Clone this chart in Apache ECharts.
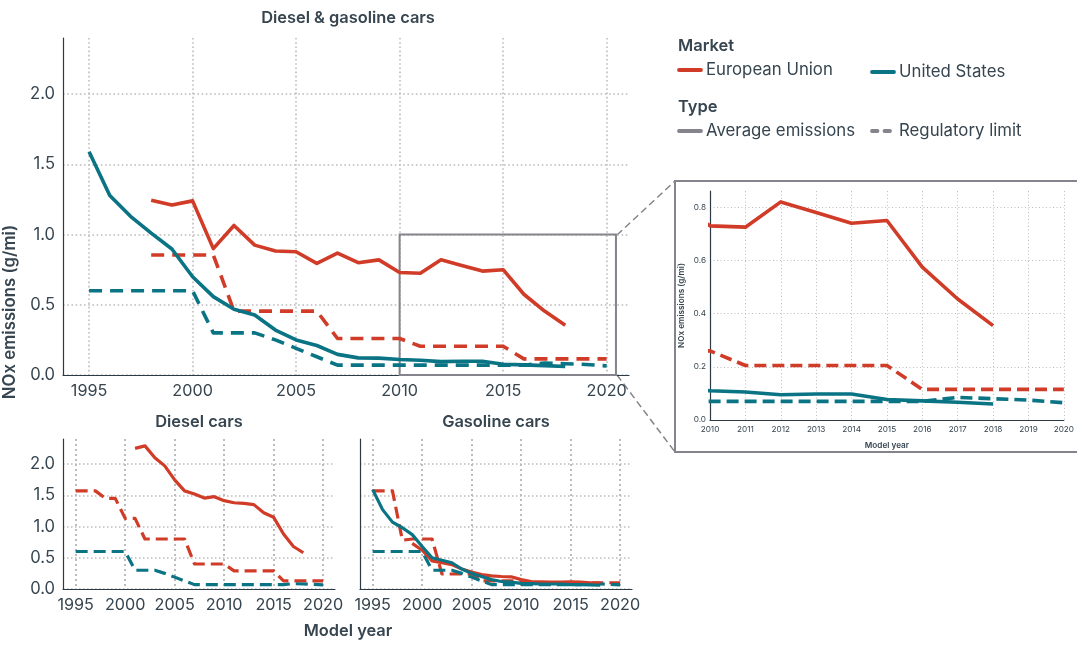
<!DOCTYPE html>
<html>
<head>
<meta charset="utf-8">
<title>NOx emissions</title>
<script src="https://cdn.jsdelivr.net/npm/echarts@6/dist/echarts.min.js"></script>
<style>
html, body { margin: 0; padding: 0; background: #fff; }
#chart { width: 1077px; height: 651px; }
</style>
</head>
<body>
<div id="chart"></div>
<script>
var fiveYearTicks = [1995, 2000, 2005, 2010, 2015, 2020];
var insetTicks = [2010, 2011, 2012, 2013, 2014, 2015, 2016, 2017, 2018, 2019, 2020];
var mainYTicks = [0, 0.5, 1, 1.5, 2];
var insetYTicks = [0, 0.2, 0.4, 0.6, 0.8];

// first model year of each series is in the name's *Start var
var allEuAvgStart = 1998;
var allEuAvg = [1.245, 1.21, 1.24, 0.90, 1.065, 0.925, 0.883, 0.878, 0.795, 0.868, 0.80, 0.82, 0.73, 0.725, 0.82, 0.78, 0.74, 0.75, 0.575, 0.455, 0.355];
var allUsAvgStart = 1995;
var allUsAvg = [1.59, 1.278, 1.13, 1.01, 0.897, 0.70, 0.558, 0.468, 0.427, 0.32, 0.25, 0.21, 0.147, 0.122, 0.12, 0.11, 0.105, 0.095, 0.098, 0.098, 0.077, 0.072, 0.067, 0.06];
var allEuLimitStart = 1998;
var allEuLimit = [0.855, 0.855, 0.855, 0.855, 0.455, 0.455, 0.455, 0.455, 0.455, 0.26, 0.26, 0.26, 0.26, 0.205, 0.205, 0.205, 0.205, 0.205, 0.115, 0.115, 0.115, 0.115, 0.115];
var usLimitStart = 1995;
var usLimit = [0.6, 0.6, 0.6, 0.6, 0.6, 0.6, 0.3, 0.3, 0.3, 0.25, 0.19, 0.13, 0.07, 0.07, 0.07, 0.07, 0.07, 0.07, 0.07, 0.07, 0.07, 0.07, 0.085, 0.08, 0.075, 0.065];

var dieselEuAvgStart = 2001;
var dieselEuAvg = [2.25, 2.29, 2.10, 1.97, 1.745, 1.57, 1.52, 1.455, 1.477, 1.413, 1.38, 1.37, 1.35, 1.22, 1.147, 0.88, 0.68, 0.58];
var dieselEuLimitStart = 1995;
var dieselEuLimit = [1.57, 1.57, 1.57, 1.45, 1.45, 1.13, 1.13, 0.8, 0.8, 0.8, 0.8, 0.8, 0.4, 0.4, 0.4, 0.4, 0.29, 0.29, 0.29, 0.29, 0.29, 0.13, 0.13, 0.13, 0.13, 0.13];

var gasEuAvgStart = 1999;
var gasEuAvg = [0.73, 0.62, 0.45, 0.42, 0.39, 0.32, 0.27, 0.23, 0.21, 0.20, 0.195, 0.15, 0.12, 0.115, 0.11, 0.11, 0.115, 0.11, 0.10, 0.095];
var gasUsAvgStart = 1995;
var gasUsAvg = [1.59, 1.27, 1.07, 0.98, 0.87, 0.68, 0.50, 0.46, 0.42, 0.32, 0.25, 0.20, 0.15, 0.12, 0.11, 0.09, 0.085, 0.08, 0.08, 0.08, 0.07, 0.07, 0.065, 0.06];
var gasEuLimitStart = 1995;
var gasEuLimit = [1.57, 1.57, 1.57, 0.78, 0.8, 0.8, 0.8, 0.24, 0.24, 0.24, 0.24, 0.13, 0.13, 0.13, 0.13, 0.13, 0.1, 0.1, 0.1, 0.1, 0.1, 0.1, 0.1, 0.1, 0.1, 0.1];

var red = '#d03c27';
var teal = '#0a7384';
var grey = '#85848c';
var ink = '#36454f';
var dots = '#bcbcbc';
var font = 'Inter';

function pairs(start, values) {
    return values.map(function (v, i) { return [start + i, v]; });
}

function line(gridIndex, name, color, start, values, dash) {
    return {
        name: name,
        type: 'line',
        xAxisIndex: gridIndex,
        yAxisIndex: gridIndex,
        data: pairs(start, values),
        symbol: 'none',
        silent: true,
        lineStyle: { color: color, width: gridIndex == 1 || gridIndex == 2 ? 3.2 : 3.6, type: dash || 'solid', join: 'round' }
    };
}

function xAxis(gridIndex, min, max, ticks, fontSize, margin, dotWidth, dotDash, extra) {
    var axis = {
        type: 'value',
        gridIndex: gridIndex,
        min: min,
        max: max,
        axisLine: { show: true, onZero: false, lineStyle: { color: '#2b3a44', width: 1.2 } },
        axisTick: { show: false, customValues: ticks },
        axisLabel: { customValues: ticks, color: ink, fontFamily: font, fontSize: fontSize, margin: margin, formatter: function (v) { return String(v); } },
        splitLine: { show: true, lineStyle: { color: dots, type: dotDash, width: dotWidth } }
    };
    return Object.assign(axis, extra || {});
}

function yAxis(gridIndex, max, ticks, fontSize, margin, showLabel, dotWidth, dotDash, extra) {
    var axis = {
        type: 'value',
        gridIndex: gridIndex,
        min: 0,
        max: max,
        axisLine: { show: true, lineStyle: { color: '#2b3a44', width: 1.2 } },
        axisTick: { show: false, customValues: ticks },
        axisLabel: { show: showLabel, customValues: ticks, color: ink, fontFamily: font, fontSize: fontSize, margin: margin, formatter: function (v) { return v.toFixed(1); } },
        splitLine: { show: true, lineStyle: { color: dots, type: dotDash, width: dotWidth } }
    };
    return Object.assign(axis, extra || {});
}

function heading(text, x, y) {
    return { text: text, left: x, top: y, textAlign: 'center', textStyle: { color: ink, fontFamily: font, fontSize: 16.4, fontWeight: 600 } };
}

function label(text, x, y, bold) {
    return {
        type: 'text', x: x, y: y,
        style: { text: text, fill: ink, font: (bold ? '600 16.5px ' : '400 16.8px ') + font, textVerticalAlign: 'middle' }
    };
}

function legendLine(x, y, color, dash) {
    return {
        type: 'line',
        shape: { x1: x, y1: y, x2: x + 22, y2: y },
        style: { stroke: color, lineWidth: 3.8, lineCap: 'round', lineDash: dash || null }
    };
}

function connector(x1, y1, x2, y2) {
    return {
        type: 'line',
        shape: { x1: x1, y1: y1, x2: x2, y2: y2 },
        style: { stroke: grey, lineWidth: 1.5, lineDash: [7, 4] }
    };
}

var mainSeries = [
    line(0, 'EU limit', red, allEuLimitStart, allEuLimit, [13, 8]),
    line(0, 'US limit', teal, usLimitStart, usLimit, [13, 8]),
    line(0, 'EU average', red, allEuAvgStart, allEuAvg),
    line(0, 'US average', teal, allUsAvgStart, allUsAvg)
];
// zoom box on the main chart, in data units
mainSeries[0].markArea = {
    silent: true,
    itemStyle: { color: 'rgba(0,0,0,0)', borderColor: grey, borderWidth: 2 },
    data: [[{ coord: [2010, 1] }, { coord: [2020.45, 0] }]]
};

var option = {
    animation: false,
    backgroundColor: '#fff',
    title: [
        heading('Diesel & gasoline cars', 343, 5),
        heading('Diesel cars', 194, 409),
        heading('Gasoline cars', 491, 409),
        heading('Model year', 343, 618)
    ],
    grid: [
        { left: 63, top: 38, width: 566, height: 337 },
        { left: 63, top: 439, width: 272, height: 150 },
        { left: 360, top: 439, width: 272, height: 150 },
        { left: 710, top: 191, width: 354, height: 229 }
    ],
    xAxis: [
        xAxis(0, 1993.74, 2021.08, fiveYearTicks, 16.2, 8, 1.6, [1.6, 2.6]),
        xAxis(1, 1993.72, 2021.2, fiveYearTicks, 16.2, 8, 2, [2, 3]),
        xAxis(2, 1993.72, 2021.2, fiveYearTicks, 16.2, 8, 2, [2, 3]),
        xAxis(3, 2010, 2020, insetTicks, 8.2, 6, 1, [1, 2.5], {
            name: 'Model year',
            nameLocation: 'middle',
            nameGap: 22,
            nameTextStyle: { color: ink, fontFamily: font, fontSize: 8.2, fontWeight: 600 }
        })
    ],
    yAxis: [
        yAxis(0, 2.4, mainYTicks, 16.6, 8, true, 1.6, [1.6, 2.6]),
        yAxis(1, 2.4, mainYTicks, 16.6, 8, true, 1.5, [1.5, 2.5]),
        yAxis(2, 2.4, mainYTicks, 16.6, 8, false, 1.5, [1.5, 2.5]),
        yAxis(3, 0.861, insetYTicks, 8.2, 4, true, 1, [1, 2.5], {
            name: 'NOx emissions (g/mi)',
            nameLocation: 'middle',
            nameGap: 24,
            nameTextStyle: { color: ink, fontFamily: font, fontSize: 8.2, fontWeight: 600 }
        })
    ],
    series: mainSeries.concat([
        line(1, 'EU limit', red, dieselEuLimitStart, dieselEuLimit, [12, 6]),
        line(1, 'US limit', teal, usLimitStart, usLimit, [12, 6]),
        line(1, 'EU average', red, dieselEuAvgStart, dieselEuAvg),

        line(2, 'EU limit', red, gasEuLimitStart, gasEuLimit, [12, 6]),
        line(2, 'US limit', teal, usLimitStart, usLimit, [12, 6]),
        line(2, 'EU average', red, gasEuAvgStart, gasEuAvg),
        line(2, 'US average', teal, gasUsAvgStart, gasUsAvg),

        line(3, 'EU limit', red, allEuLimitStart, allEuLimit, [12, 6]),
        line(3, 'US limit', teal, usLimitStart, usLimit, [12, 6]),
        line(3, 'EU average', red, allEuAvgStart, allEuAvg),
        line(3, 'US average', teal, allUsAvgStart, allUsAvg)
    ]),
    graphic: [
        // y axis title
        {
            type: 'text', x: 10, y: 312, rotation: Math.PI / 2,
            style: { text: 'NOx emissions (g/mi)', fill: ink, font: '600 16.8px ' + font, textAlign: 'center', textVerticalAlign: 'middle' }
        },
        // legend
        label('Market', 678, 46, true),
        legendLine(679, 70, red),
        label('European Union', 706, 70),
        legendLine(872, 72, teal),
        label('United States', 899, 72),
        label('Type', 678, 107, true),
        legendLine(679, 131, grey),
        label('Average emissions', 706, 131),
        legendLine(872, 131, grey, [5.5, 7]),
        label('Regulatory limit', 899, 131),
        // inset frame and its connectors
        {
            type: 'rect',
            shape: { x: 675, y: 181, width: 420, height: 271 },
            style: { fill: null, stroke: grey, lineWidth: 2 }
        },
        connector(617, 235, 675, 181),
        connector(617, 375, 675, 452)
    ]
};

var chart = echarts.init(document.getElementById('chart'));
chart.setOption(option);
</script>
</body>
</html>
